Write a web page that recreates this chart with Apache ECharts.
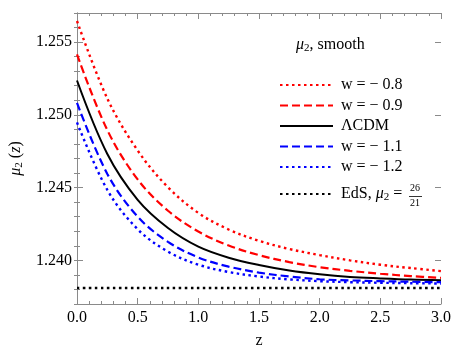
<!DOCTYPE html>
<html>
<head>
<meta charset="utf-8">
<script src="https://cdn.jsdelivr.net/npm/echarts@6/dist/echarts.min.js"></script>
<style>html,body{margin:0;padding:0;background:#fff}#c{width:454px;height:356px}</style>
</head>
<body>
<div id="c"></div>
<script>
// z grid
const zValues = [0, 0.25, 0.5, 0.75, 1.0, 1.25, 1.5, 1.75, 2.0, 2.25, 2.5, 2.75, 3.0];
// mu2(z)
const wm08 = [1.25645, 1.25112, 1.24755, 1.24502, 1.24326, 1.24212, 1.24134, 1.24078, 1.24036, 1.24000, 1.23970, 1.23947, 1.23926];
const wm09 = [1.25415, 1.24895, 1.24556, 1.24341, 1.24198, 1.24102, 1.24036, 1.23988, 1.23953, 1.23928, 1.23908, 1.23892, 1.23880];
const lcdm = [1.25236, 1.24731, 1.24416, 1.24222, 1.24094, 1.24018, 1.23968, 1.23930, 1.23904, 1.23886, 1.23876, 1.23868, 1.23864];
const wm11 = [1.25082, 1.24594, 1.24300, 1.24127, 1.24020, 1.23957, 1.23916, 1.23889, 1.23870, 1.23862, 1.23857, 1.23853, 1.23850];
const wm12 = [1.24948, 1.24484, 1.24214, 1.24060, 1.23970, 1.23920, 1.23889, 1.23869, 1.23857, 1.23850, 1.23846, 1.23843, 1.23841];
const edsValue = 26 / 21;
const edsZ = [0, 3.0];

const seriesNames = ['w = − 0.8', 'w = − 0.9', 'ΛCDM', 'w = − 1.1', 'w = − 1.2', 'EdS'];
const xTicks = [0, 0.5, 1.0, 1.5, 2.0, 2.5, 3.0];
const yTicks = [1.240, 1.245, 1.250, 1.255];

const serif = 'Liberation Serif';
const pair = (xs, ys) => xs.map((x, i) => [x, ys[i]]);

function mkLine(name, data, color, type, width) {
  return {
    name, type: 'line', data, xAxisIndex: 0, yAxisIndex: 0,
    symbol: 'none', showSymbol: false, smooth: 0.35, silent: true,
    lineStyle: { color, width, type },
    itemStyle: { color }
  };
}

const dotted = [2.5, 3.5];
const dashed = [8, 4];
const gray = '#8a8a8a';

const richMath = {
  i: { fontFamily: serif, fontStyle: 'italic', fontSize: 16, color: '#000', fontWeight: 'normal' },
  s: { fontFamily: serif, fontSize: 11, color: '#000', fontWeight: 'normal', padding: [7, 0, 0, 0] },
  n: { fontFamily: serif, fontSize: 16, color: '#000', fontWeight: 'normal' }
};

const yRange = { min: 1.237, max: 1.257 };

const option = {
  animation: false,
  backgroundColor: '#fff',
  grid: { left: 77, right: 13, top: 13, bottom: 52, containLabel: false },
  title: {
    text: '{i|μ}{s|2}{n|, smooth}',
    left: 291, top: 31,
    textStyle: { fontWeight: 'normal', rich: richMath }
  },
  legend: [{
    orient: 'vertical', left: 274, top: 72,
    data: seriesNames.slice(0, 5),
    itemWidth: 53, itemHeight: 14, itemGap: 4.5,
    selectedMode: false,
    itemStyle: { opacity: 0 },
    textStyle: { fontFamily: serif, fontSize: 16, color: '#000', padding: [0, 0, 0, 3] }
  }, {
    orient: 'vertical', left: 274, top: 181,
    data: ['EdS'],
    itemWidth: 53, itemHeight: 14,
    selectedMode: false,
    itemStyle: { opacity: 0 },
    formatter: () => '{n|EdS, }{i|μ}{s|2}{n| = }',
    textStyle: { padding: [0, 0, 0, 3], rich: richMath }
  }],
  graphic: [
    { type: 'text', left: 410, top: 183, style: { text: '26', font: '10px "Liberation Serif"', fill: '#000' } },
    { type: 'line', shape: { x1: 409, y1: 196.5, x2: 422, y2: 196.5 }, style: { stroke: '#000', lineWidth: 0.8 } },
    { type: 'text', left: 410, top: 198, style: { text: '21', font: '10px "Liberation Serif"', fill: '#000' } }
  ],
  xAxis: [
    {
      type: 'value', position: 'bottom', min: 0, max: 3, interval: 0.5,
      name: 'z', nameLocation: 'middle', nameGap: 29,
      nameTextStyle: { fontFamily: serif, fontSize: 16, color: '#000' },
      axisLine: { show: true, lineStyle: { color: gray } },
      axisTick: { show: true, inside: true, length: 6, lineStyle: { color: gray } },
      minorTick: { show: true, splitNumber: 5, length: 3, lineStyle: { color: gray } },
      splitLine: { show: false },
      axisLabel: { show: true, margin: 6, fontFamily: serif, fontSize: 16, color: '#000',
        customValues: xTicks, formatter: v => v.toFixed(1) }
    },
    {
      type: 'value', position: 'top', min: 0, max: 3, interval: 0.5,
      axisLine: { show: true, lineStyle: { color: gray } },
      axisTick: { show: true, inside: true, length: 6, lineStyle: { color: gray } },
      minorTick: { show: true, splitNumber: 5, length: 3, lineStyle: { color: gray } },
      splitLine: { show: false },
      axisLabel: { show: false }
    }
  ],
  yAxis: [
    {
      type: 'value', position: 'left', min: yRange.min, max: yRange.max, interval: 0.001,
      name: '{i|μ}{s|2}{n| (}{i|z}{n|)}', nameLocation: 'middle', nameGap: 37, nameRotate: 90,
      nameTextStyle: { rich: richMath },
      axisLine: { show: true, lineStyle: { color: gray } },
      axisTick: { show: true, inside: true, length: 3, lineStyle: { color: gray } },
      splitLine: { show: false },
      axisLabel: { show: true, margin: 5, fontFamily: serif, fontSize: 16, color: '#000',
        customValues: yTicks, formatter: v => v.toFixed(3) }
    },
    {
      type: 'value', position: 'right', min: yRange.min, max: yRange.max, interval: 0.001,
      axisLine: { show: true, lineStyle: { color: gray } },
      axisTick: { show: true, inside: true, length: 3, lineStyle: { color: gray } },
      splitLine: { show: false },
      axisLabel: { show: false }
    },
    {
      type: 'value', position: 'left', min: yRange.min, max: yRange.max,
      axisLine: { show: false },
      axisTick: { show: true, inside: true, length: 6, customValues: yTicks, lineStyle: { color: gray } },
      splitLine: { show: false },
      axisLabel: { show: false }
    },
    {
      type: 'value', position: 'right', min: yRange.min, max: yRange.max,
      axisLine: { show: false },
      axisTick: { show: true, inside: true, length: 6, customValues: yTicks, lineStyle: { color: gray } },
      splitLine: { show: false },
      axisLabel: { show: false }
    }
  ],
  series: [
    mkLine(seriesNames[0], pair(zValues, wm08), '#ff0000', dotted, 2.4),
    mkLine(seriesNames[1], pair(zValues, wm09), '#ff0000', dashed, 2.2),
    mkLine(seriesNames[2], pair(zValues, lcdm), '#000000', 'solid', 2),
    mkLine(seriesNames[3], pair(zValues, wm11), '#0000ff', dashed, 2.2),
    mkLine(seriesNames[4], pair(zValues, wm12), '#0000ff', dotted, 2.4),
    mkLine(seriesNames[5], edsZ.map(z => [z, edsValue]), '#000000', dotted, 2.4)
  ]
};

const chart = echarts.init(document.getElementById('c'), null, { renderer: 'canvas' });
chart.setOption(option);
</script>
</body>
</html>
